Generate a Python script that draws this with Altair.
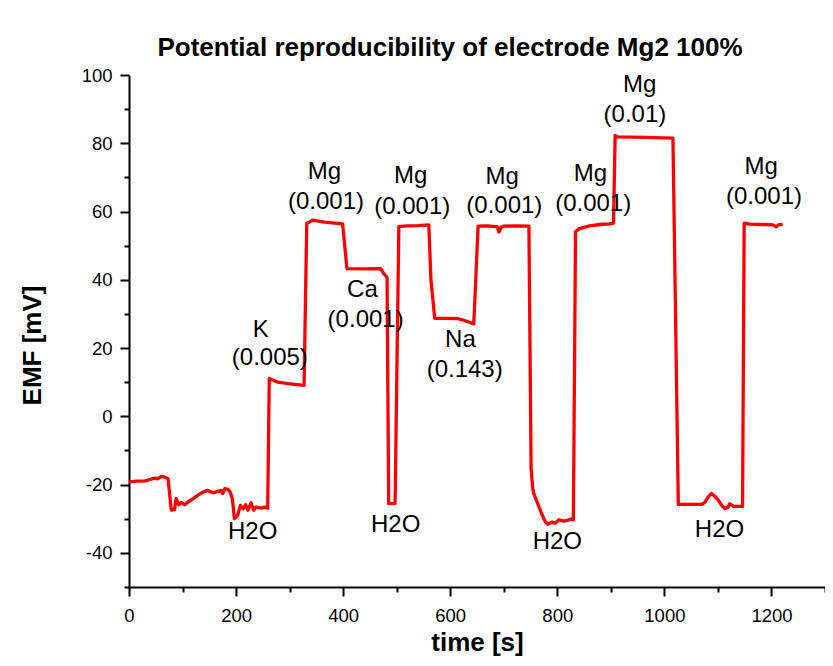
import altair as alt
import pandas as pd

# ---- measured series (time in s, EMF in mV) ----
time_s = [0, 14, 30, 39, 48, 54, 60, 67, 73, 79, 85, 88, 93, 98, 104, 110, 120, 129, 138, 147,
          157, 166, 172, 175, 179, 185, 189, 193, 197, 203, 208, 213, 218, 222, 228, 233, 237, 247, 253, 259,
          262, 278, 297, 327, 332, 343, 365, 399, 407, 440, 470, 477, 482, 485, 491, 497, 504, 520, 540, 560,
          564, 571, 590, 615, 628, 644, 652, 670, 688, 691, 695, 700, 720, 747, 751, 754, 756, 761, 766, 772,
          778, 782, 790, 796, 803, 812, 818, 825, 830, 834, 840, 860, 880, 898, 905, 908, 912, 936, 967, 998,
          1016, 1026, 1048, 1070, 1076, 1082, 1088, 1094, 1101, 1107, 1113, 1119, 1122, 1129, 1138, 1146,
          1149, 1160, 1185, 1203, 1209, 1213, 1221]
emf_mv = [-19.2, -19.0, -18.9, -18.5, -18.1, -18.3, -17.6, -17.8, -18.3, -27.5, -27.3, -24.1, -25.9, -25.2, -25.9, -25.1, -24.1, -23.1, -22.2, -21.7,
          -22.4, -22.0, -21.7, -22.6, -21.2, -21.4, -22.2, -24.1, -30.0, -29.0, -26.1, -27.1, -25.9, -27.5, -25.3, -27.5, -26.6, -26.9, -26.6, -26.9,
          11.1, 10.0, 9.6, 9.1, 56.5, 57.5, 56.9, 56.4, 43.3, 43.2, 43.3, 41.6, 40.8, -25.5, -25.6, -25.5, 55.6, 55.8, 55.9, 56.1,
          40.0, 28.7, 28.7, 28.6, 28.0, 27.1, 55.7, 55.8, 55.5, 54.0, 55.4, 55.7, 55.8, 55.7, -15.0, -21.0, -22.6, -24.6, -26.6, -29.0,
          -31.0, -31.6, -31.0, -31.3, -30.3, -30.7, -30.5, -30.1, -30.3, 54.0, 54.9, 55.8, 56.2, 56.4, 56.6, 82.3, 81.9, 81.8, 81.7, 81.6,
          81.5, -25.8, -25.8, -25.8, -25.1, -23.6, -22.6, -23.4, -24.6, -26.1, -27.0, -26.6, -25.6, -26.4, -26.4, -26.4,
          56.6, 56.3, 56.2, 56.1, 55.5, 56.1, 56.3]
assert len(time_s) == len(emf_mv)

# ---- annotations ----
ion_names = ["K", "Mg", "Ca", "Mg", "Na", "Mg", "Mg", "Mg", "Mg"]
ion_name_t = [246, 365, 436, 526, 619, 697, 862, 954, 1181]
ion_name_v = [25.2, 71.6, 37.1, 70.3, 22.3, 70.1, 71.1, 97.0, 73.0]
ion_conc = ["(0.005)", "(0.001)", "(0.001)", "(0.001)", "(0.143)", "(0.001)", "(0.001)", "(0.01)", "(0.001)"]
ion_conc_t = [263, 368, 442, 529, 627, 701, 867, 945, 1186]
ion_conc_v = [17.0, 62.8, 28.3, 61.3, 13.5, 61.5, 62.3, 88.2, 64.3]
water_labels = ["H2O", "H2O", "H2O", "H2O"]
water_t = [231, 498, 800, 1103]
water_v = [-33.9, -31.9, -36.8, -33.4]

x_ticks = list(range(0, 1301, 100))
y_ticks = list(range(-50, 101, 10))

FONT = "Liberation Sans"

series = pd.DataFrame({"t": time_s, "emf": emf_mv, "i": range(len(time_s))})
names = pd.DataFrame({"t": ion_name_t, "emf": ion_name_v, "txt": ion_names})
concs = pd.DataFrame({"t": ion_conc_t, "emf": ion_conc_v, "txt": ion_conc})
water = pd.DataFrame({"t": water_t, "emf": water_v, "txt": water_labels})

x_scale = alt.Scale(domain=[0, 1300], nice=False, zero=False)
y_scale = alt.Scale(domain=[-50, 100], nice=False, zero=False)

x_axis = alt.Axis(
    values=x_ticks,
    labelExpr="datum.value % 200 === 0 ? '' + datum.value : ''",
    tickSize={"condition": {"test": "datum.value % 200 === 0", "value": 9}, "value": 5},
    grid=False, domainColor="black", domainWidth=2, tickColor="black", tickWidth=2,
    labelFont=FONT, labelFontSize=18.5, labelColor="black", labelPadding=10,
    labelFlush=False, labelOverlap=False,
    title="time [s]", titleFont=FONT, titleFontSize=26, titleFontWeight="bold",
    titleColor="black", titleY=55, titleBaseline="middle",
)
y_axis = alt.Axis(
    values=y_ticks,
    labelExpr="datum.value % 20 === 0 ? '' + datum.value : ''",
    tickSize={"condition": {"test": "datum.value % 20 === 0", "value": 9}, "value": 5},
    grid=False, domainColor="black", domainWidth=2, tickColor="black", tickWidth=2,
    labelFont=FONT, labelFontSize=18.5, labelColor="black", labelPadding=8,
    labelFlush=False, labelOverlap=False,
    title="EMF [mV]", titleFont=FONT, titleFontSize=26, titleFontWeight="bold",
    titleColor="black", titleX=-97, titleY=270, titleBaseline="middle",
)

line = alt.Chart(series).mark_line(color="#ff0000", strokeWidth=3.3, strokeJoin="round").encode(
    x=alt.X("t:Q", scale=x_scale, axis=x_axis),
    y=alt.Y("emf:Q", scale=y_scale, axis=y_axis),
    order="i:Q",
)

def text_layer(df):
    return alt.Chart(df).mark_text(font=FONT, fontSize=24, color="black",
                                   align="center", baseline="middle").encode(
        x=alt.X("t:Q", scale=x_scale, axis=x_axis),
        y=alt.Y("emf:Q", scale=y_scale, axis=y_axis),
        text="txt:N",
    )

chart = alt.layer(line, text_layer(names), text_layer(concs), text_layer(water)).properties(
    width=696,
    height=512,
    autosize=alt.AutoSizeParams(type="none"),
    padding={"left": 121, "top": 67, "right": 0, "bottom": 70},
    background="white",
    title=alt.TitleParams(
        text="Potential reproducibility of electrode Mg2 100%",
        font=FONT, fontSize=26, fontWeight="bold", color="black",
        anchor="middle", dx=-27, dy=34, offset=18, baseline="alphabetic", frame="group",
    ),
).configure_view(stroke=None)

chart.save("out.html", embed_options={"renderer": "svg", "actions": False})
